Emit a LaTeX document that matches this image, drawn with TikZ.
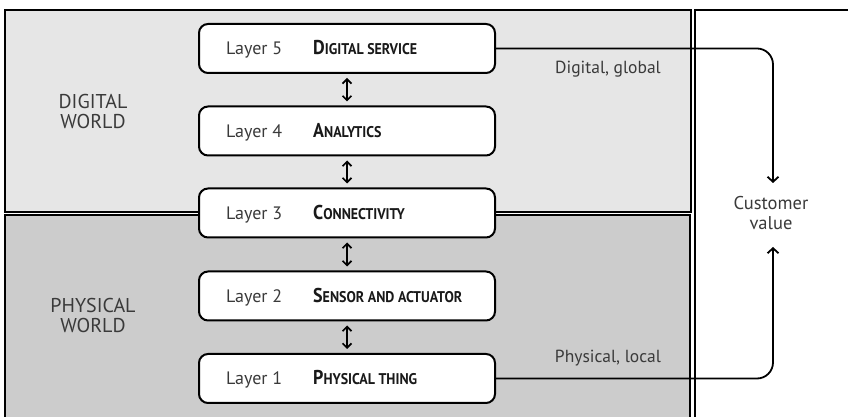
\documentclass[tikz,border=0pt]{standalone}
\usepackage{fontspec}
\setmainfont{PT Sans}
\newfontfamily\titlefont[FakeStretch=0.9]{PT Sans}
\usetikzlibrary{arrows.meta}
\definecolor{digfill}{HTML}{E6E6E6}
\definecolor{phyfill}{HTML}{CCCCCC}
\definecolor{txtgray}{HTML}{3A3A3A}
\newcommand{\sct}[2]{{\titlefont\bfseries\fontsize{20}{22}\selectfont #1\fontsize{15.5}{22}\selectfont #2}}
\tikzset{
  worldbox/.style={draw=black, line width=2pt},
  layerbox/.style={draw=black, fill=white, line width=2pt, rounded corners=9pt, minimum width=296pt, minimum height=49pt, inner sep=0pt},
  lbl/.style={text=txtgray, font=\fontsize{17.5}{20}\selectfont, inner sep=0pt},
  biglbl/.style={text=txtgray, font=\fontsize{20}{20}\selectfont, inner sep=0pt, align=center},
  laylbl/.style={text=txtgray, font=\fontsize{18}{20}\selectfont, inner sep=0pt, anchor=base west},
  ttl/.style={text=black!90, inner sep=0pt, anchor=base west},
  dbl/.style={line width=1.7pt, {Straight Barb[length=4.5pt,width=9pt]}-{Straight Barb[length=4.5pt,width=9pt]}},
  conn/.style={line width=1.8pt, rounded corners=16pt, -{Straight Barb[length=5pt,width=11pt]}},
}
\begin{document}
\begin{tikzpicture}[x=1pt,y=1pt]
\useasboundingbox (0,0) rectangle (848,417);
\fill[white] (0,0) rectangle (848,417);
% world boxes
\draw[worldbox, fill=digfill] (5,407) rectangle (691,205);
\draw[worldbox, fill=phyfill] (5,202) rectangle (690,-2);
\draw[worldbox, fill=white] (695,407) rectangle (852,-2);
% world labels
\node[biglbl] (dw) at (93,305) {DIGITAL\\WORLD};
\node[biglbl] (pw) at (93,101) {PHYSICAL\\WORLD};
% layer boxes
\node[layerbox] (L5) at (347,368.5) {};
\node[layerbox] (L4) at (347,286) {};
\node[layerbox] (L3) at (347,204) {};
\node[layerbox] (L2) at (347,121) {};
\node[layerbox] (L1) at (347,38.5) {};
% layer texts
\foreach \n/\a/\b in {5/D/IGITAL SERVICE,4/A/NALYTICS,3/C/ONNECTIVITY,2/S/ENSOR AND ACTUATOR,1/P/HYSICAL THING}{
  \node[laylbl] (N\n) at ([yshift=-6.5pt]L\n.center -| 226,0) {Layer \n};
  \node[ttl] (T\n) at ([yshift=-6.5pt]L\n.center -| 313,0) {\sct{\a}{\b}};
}
% double arrows
\draw[dbl] ([yshift=-4pt]L5.south) -- ([yshift=4pt]L4.north);
\draw[dbl] ([yshift=-4pt]L4.south) -- ([yshift=4pt]L3.north);
\draw[dbl] ([yshift=-4pt]L3.south) -- ([yshift=4pt]L2.north);
\draw[dbl] ([yshift=-4pt]L2.south) -- ([yshift=4pt]L1.north);
% customer value
\node[biglbl, font=\fontsize{18.5}{20}\selectfont] (cv) at (771,203.5) {Customer\\value};
\coordinate (cvtop) at (773,234);
\coordinate (cvbot) at (773,170);
\draw[conn] (L5.east) -| (cvtop);
\draw[conn] (L1.east) -| (cvbot);
% side labels
\node[lbl] (dg) at (608,348) {Digital, global};
\node[lbl] (pl) at (608,59) {Physical, local};
\end{tikzpicture}
\end{document}
